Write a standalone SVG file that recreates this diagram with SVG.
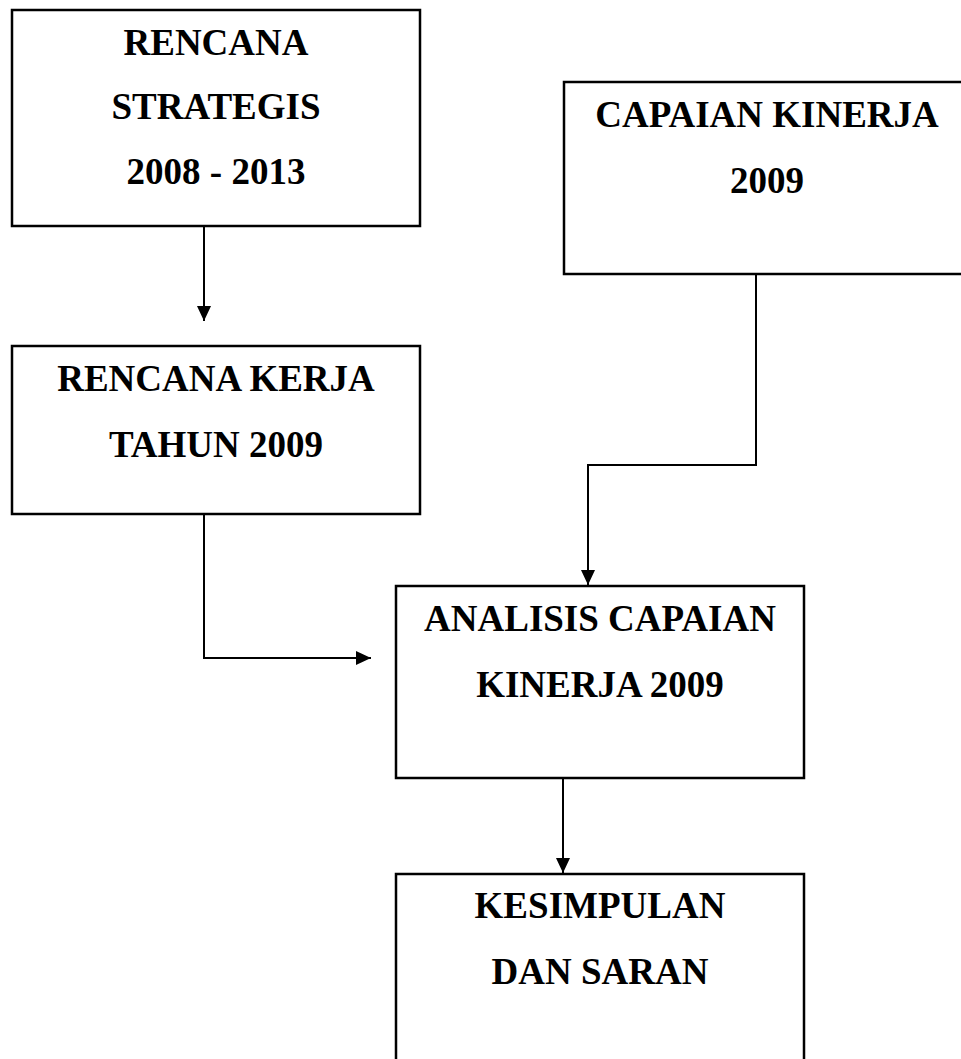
<svg xmlns="http://www.w3.org/2000/svg" width="961" height="1059" viewBox="0 0 961 1059">
<style>
.box{fill:#fff;stroke:#000;stroke-width:2.5}
.t{font-family:"Liberation Serif","Times New Roman",serif;font-weight:bold;font-size:37px;fill:#000;text-anchor:middle}
.c{fill:none;stroke:#000;stroke-width:2}
</style>
<defs>
<marker id="ah" viewBox="0 0 15 14" refX="15" refY="7" markerWidth="15" markerHeight="14" markerUnits="userSpaceOnUse" orient="auto">
<path d="M0,0 L15,7 L0,14 Z" fill="#000"/>
</marker>
</defs>
<g id="connectors">
<path class="c" d="M204,226 V321" marker-end="url(#ah)"/>
<path class="c" d="M204,514 V658 H371" marker-end="url(#ah)"/>
<path class="c" d="M756,274 V465 H588 V585" marker-end="url(#ah)"/>
<path class="c" d="M563,778 V873" marker-end="url(#ah)"/>
</g>
<g id="renstra">
<rect class="box" x="12" y="10" width="408" height="216"/>
<text class="t" x="216" y="55">RENCANA</text>
<text class="t" x="216" y="119">STRATEGIS</text>
<text class="t" x="216" y="184">2008 - 2013</text>
</g>
<g id="capaian">
<rect class="box" x="564" y="82" width="410" height="192"/>
<text class="t" x="767" y="127">CAPAIAN KINERJA</text>
<text class="t" x="767" y="193">2009</text>
</g>
<g id="renja">
<rect class="box" x="12" y="346" width="408" height="168"/>
<text class="t" x="216" y="391">RENCANA KERJA</text>
<text class="t" x="216" y="457">TAHUN 2009</text>
</g>
<g id="analisis">
<rect class="box" x="396" y="586" width="408" height="192"/>
<text class="t" x="600" y="631">ANALISIS CAPAIAN</text>
<text class="t" x="600" y="697">KINERJA 2009</text>
</g>
<g id="kesimpulan">
<rect class="box" x="396" y="874" width="408" height="200"/>
<text class="t" x="600" y="918">KESIMPULAN</text>
<text class="t" x="600" y="984">DAN SARAN</text>
</g>
</svg>
